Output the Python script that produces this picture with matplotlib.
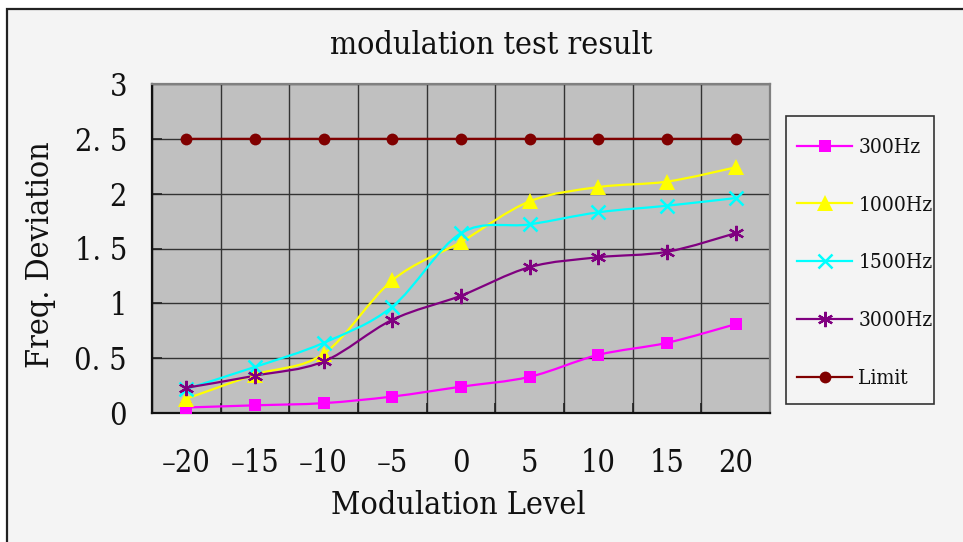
import matplotlib
matplotlib.use("Agg")
import matplotlib.pyplot as plt
from matplotlib.path import Path
from matplotlib.patches import PathPatch, Rectangle
from matplotlib.lines import Line2D
import numpy as np

levels = [-20, -15, -10, -5, 0, 5, 10, 15, 20]
hz300 = [0.05, 0.07, 0.09, 0.15, 0.24, 0.33, 0.53, 0.64, 0.81]
hz1000 = [0.13, 0.35, 0.54, 1.21, 1.56, 1.93, 2.06, 2.11, 2.24]
hz1500 = [0.22, 0.42, 0.64, 0.97, 1.64, 1.72, 1.83, 1.89, 1.96]
hz3000 = [0.23, 0.34, 0.47, 0.85, 1.07, 1.33, 1.42, 1.47, 1.64]
limit = [2.5, 2.5, 2.5, 2.5, 2.5, 2.5, 2.5, 2.5, 2.5]
series_names = ["300Hz", "1000Hz", "1500Hz", "3000Hz", "Limit"]

FONT = dict(family="DejaVu Serif", stretch="condensed")
plt.rcParams["font.family"] = "DejaVu Serif"
plt.rcParams["font.stretch"] = "condensed"

W, H = 963, 542
fig = plt.figure(figsize=(W / 100, H / 100), dpi=100, facecolor="white")

# outer chart frame
fig.patches.append(Rectangle((7 / W, -0.1), 1.2, 1 - 9 / H + 0.1, transform=fig.transFigure,
                             facecolor="#f4f4f4", edgecolor="#222222", linewidth=1.6, zorder=-10))

L, R, T, B = 152, 770, 84, 413
ax = fig.add_axes([L / W, 1 - B / H, (R - L) / W, (B - T) / H])
ax.set_zorder(2)
ax.set_facecolor("#c0c0c0")

n = len(levels)
x = np.arange(n)
ax.set_xlim(-0.5, n - 0.5)
ax.set_ylim(0, 3)

# grid
ax.set_yticks(np.arange(0, 3.01, 0.5))
ax.set_yticklabels(["0", "0. 5", "1", "1. 5", "2", "2. 5", "3"])
ax.set_xticks(x)
ax.set_xticklabels([str(v).replace("-", "\u2013") for v in levels])
ax.set_xticks(np.arange(-0.5, n, 1.0), minor=True)
ax.grid(axis="y", which="major", color="#333333", linewidth=1.0)
ax.grid(axis="x", which="minor", color="#333333", linewidth=1.0)
ax.set_axisbelow(True)
ax.tick_params(axis="x", which="major", length=0, pad=25, labelsize=22, labelcolor="#111111")
ax.tick_params(axis="x", which="minor", direction="in", length=7, width=1.2, color="#222222")
ax.tick_params(axis="y", which="major", direction="in", length=7, width=1.2, color="#222222",
               pad=18, labelsize=22, labelcolor="#111111")
for s in ["left", "bottom"]:
    ax.spines[s].set_color("#111111")
    ax.spines[s].set_linewidth(1.6)
for s in ["top", "right"]:
    ax.spines[s].set_color("#808080")
    ax.spines[s].set_linewidth(1.6)


def smooth_path(xs, ys):
    pts = np.column_stack([xs, ys]).astype(float)
    verts = [pts[0]]
    codes = [Path.MOVETO]
    m = len(pts)
    for i in range(m - 1):
        p0 = pts[max(i - 1, 0)]
        p1 = pts[i]
        p2 = pts[i + 1]
        p3 = pts[min(i + 2, m - 1)]
        c1 = p1 + (p2 - p0) / 6.0
        c2 = p2 - (p3 - p1) / 6.0
        verts += [c1, c2, p2]
        codes += [Path.CURVE4] * 3
    return Path(verts, codes)


styles = [
    (hz300, "#ff00ff", dict(marker="s", markersize=8, markeredgewidth=0)),
    (hz1000, "#ffff00", dict(marker="^", markersize=11.5, markeredgewidth=0)),
    (hz1500, "#00ffff", dict(marker="x", markersize=10, markeredgewidth=1.8)),
    (hz3000, "#800080", dict(marker=(6, 2, 0), markersize=11, markeredgewidth=1.6)),
    (limit, "#800000", dict(marker="o", markersize=8.5, markeredgewidth=0)),
]
handles = []
for (vals, col, mk), name in zip(styles, series_names):
    ax.add_patch(PathPatch(smooth_path(x, vals), facecolor="none", edgecolor=col,
                           linewidth=1.6, zorder=3))
    ax.plot(x, vals, linestyle="none", color=col, markerfacecolor=col, markeredgecolor=col,
            zorder=4, clip_on=False, **mk)
    handles.append(Line2D([], [], color=col, linewidth=1.6, markerfacecolor=col,
                          markeredgecolor=col, **mk))

# legend box
fig.patches.append(Rectangle((786 / W, 1 - 404 / H), (934 - 786) / W, (404 - 116) / H,
                             transform=fig.transFigure, facecolor="#f4f4f4",
                             edgecolor="#333333", linewidth=1.2, zorder=1))
leg = fig.legend(handles, series_names, loc="upper left",
                 bbox_to_anchor=(797 / W, 1 - 138 / H), frameon=False,
                 prop=dict(family="DejaVu Serif", stretch="condensed", size=15),
                 handlelength=2.65, handletextpad=0.3, labelspacing=1.86,
                 borderpad=0, borderaxespad=0)
leg.set_zorder(5)
for t in leg.get_texts():
    t.set_color("#111111")

fig.text(491 / W, 1 - 45 / H, "modulation test result", ha="center", va="center",
         fontsize=23, color="#111111", **FONT)
fig.text(458 / W, 1 - 506 / H, "Modulation Level", ha="center", va="center",
         fontsize=23, color="#111111", **FONT)
fig.text(40 / W, 1 - 255 / H, "Freq. Deviation", ha="center", va="center", rotation=90,
         fontsize=23, color="#111111", **FONT)

fig.savefig("out.png", dpi=100, facecolor=fig.get_facecolor())
